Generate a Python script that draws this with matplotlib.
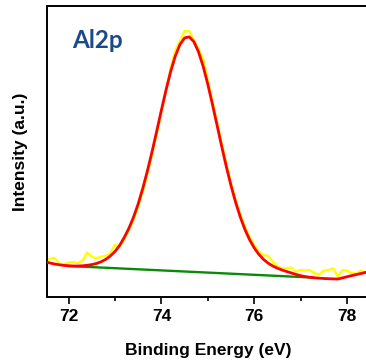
import matplotlib
matplotlib.use("Agg")
import matplotlib.pyplot as plt
from matplotlib.ticker import MultipleLocator

# binding energy grid (eV)
energy = [71.5, 71.6, 71.7, 71.8, 71.9, 72.0, 72.1, 72.2, 72.3, 72.4,
          72.5, 72.6, 72.7, 72.8, 72.9, 73.0, 73.1, 73.2, 73.3, 73.4,
          73.5, 73.6, 73.7, 73.8, 73.9, 74.0, 74.1, 74.2, 74.3, 74.4,
          74.5, 74.6, 74.7, 74.8, 74.9, 75.0, 75.1, 75.2, 75.3, 75.4,
          75.5, 75.6, 75.7, 75.8, 75.9, 76.0, 76.1, 76.2, 76.3, 76.4,
          76.5, 76.6, 76.7, 76.8, 76.9, 77.0, 77.1, 77.2, 77.3, 77.4,
          77.5, 77.6, 77.7, 77.8, 77.9, 78.0, 78.1, 78.2, 78.3, 78.4]

# measured Al2p spectrum (a.u.)
raw = [35.0, 38.5, 39.0, 33.7, 32.7, 34.5, 34.8, 34.0, 36.0, 44.3,
       40.3, 38.7, 40.3, 41.0, 44.0, 52.0, 50.5, 58.0, 67.0, 77.5,
       90.5, 105.5, 123.0, 142.5, 163.0, 185.0, 206.0, 229.0, 246.5, 256.0,
       266.0, 266.0, 257.0, 248.0, 238.0, 217.0, 196.0, 175.0, 153.5, 133.0,
       114.0, 97.0, 82.5, 70.0, 60.0, 52.0, 45.0, 42.0, 41.0, 35.3,
       30.5, 28.7, 28.9, 29.3, 25.3, 27.0, 26.5, 27.0, 23.7, 22.7,
       26.3, 27.0, 28.7, 20.3, 27.0, 26.3, 23.7, 23.7, 26.3, 24.3]

# fitted envelope (a.u.)
fit = [35.2, 34.0, 33.0, 32.2, 31.6, 31.2, 31.0, 31.0, 31.2, 31.7,
       32.4, 33.5, 35.2, 37.6, 41.0, 45.5, 51.5, 59.5, 68.7, 79.8,
       93.1, 108.7, 126.3, 145.5, 165.9, 186.8, 207.0, 225.5, 241.0, 252.5,
       259.1, 260.1, 255.3, 245.1, 230.6, 212.7, 192.6, 171.6, 150.4, 130.1,
       111.4, 94.6, 79.9, 67.5, 57.3, 49.1, 42.6, 37.6, 33.8, 31.0,
       28.8, 27.0, 25.5, 24.0, 22.6, 21.3, 20.4, 19.7, 19.2, 18.8,
       18.5, 18.3, 18.1, 18.0, 19.1, 20.3, 21.4, 22.5, 23.5, 24.6]

# linear background
bg_energy = [71.96, 77.27]
bg_level = [31.1, 19.4]

fig = plt.figure(figsize=(3.66, 3.6), dpi=100)
ax = fig.add_axes([46.7 / 366, 63 / 360, 323.6 / 366, 291 / 360])

ax.plot(energy, raw, color="#ffff00", lw=1.7, zorder=2)
ax.plot(bg_energy, bg_level, color="#0a8a0a", lw=1.7, zorder=3)
ax.plot(energy, fit, color="#ff0000", lw=2.0, zorder=4)

ax.set_xlim(71.53, 78.5)
ax.set_ylim(0, 291)

ax.xaxis.set_major_locator(MultipleLocator(2))
ax.xaxis.set_minor_locator(MultipleLocator(1))
ax.tick_params(axis="x", which="major", direction="out", length=5, width=1.2,
               pad=3.5, labelsize=12.5)
ax.tick_params(axis="x", which="minor", direction="out", length=3, width=1.2)
ax.set_yticks([])
for lbl in ax.get_xticklabels():
    lbl.set_fontweight("bold")
    lbl.set_family("Liberation Sans")

for s in ["left", "bottom", "top"]:
    ax.spines[s].set_linewidth(1.4)
ax.spines["right"].set_visible(False)

ax.set_xlabel("Binding Energy (eV)", fontsize=12.5, fontweight="bold",
              family="Liberation Sans", labelpad=14)
ax.set_ylabel("Intensity (a.u.)", fontsize=12.5, fontweight="bold",
              family="Liberation Sans", labelpad=13.5)

ax.text(0.08, 0.883, "Al2p", transform=ax.transAxes, fontsize=17.5,
        fontweight="bold", family="Lato", color="#1a4a8a", va="center")

fig.savefig("out.png", dpi=100)
